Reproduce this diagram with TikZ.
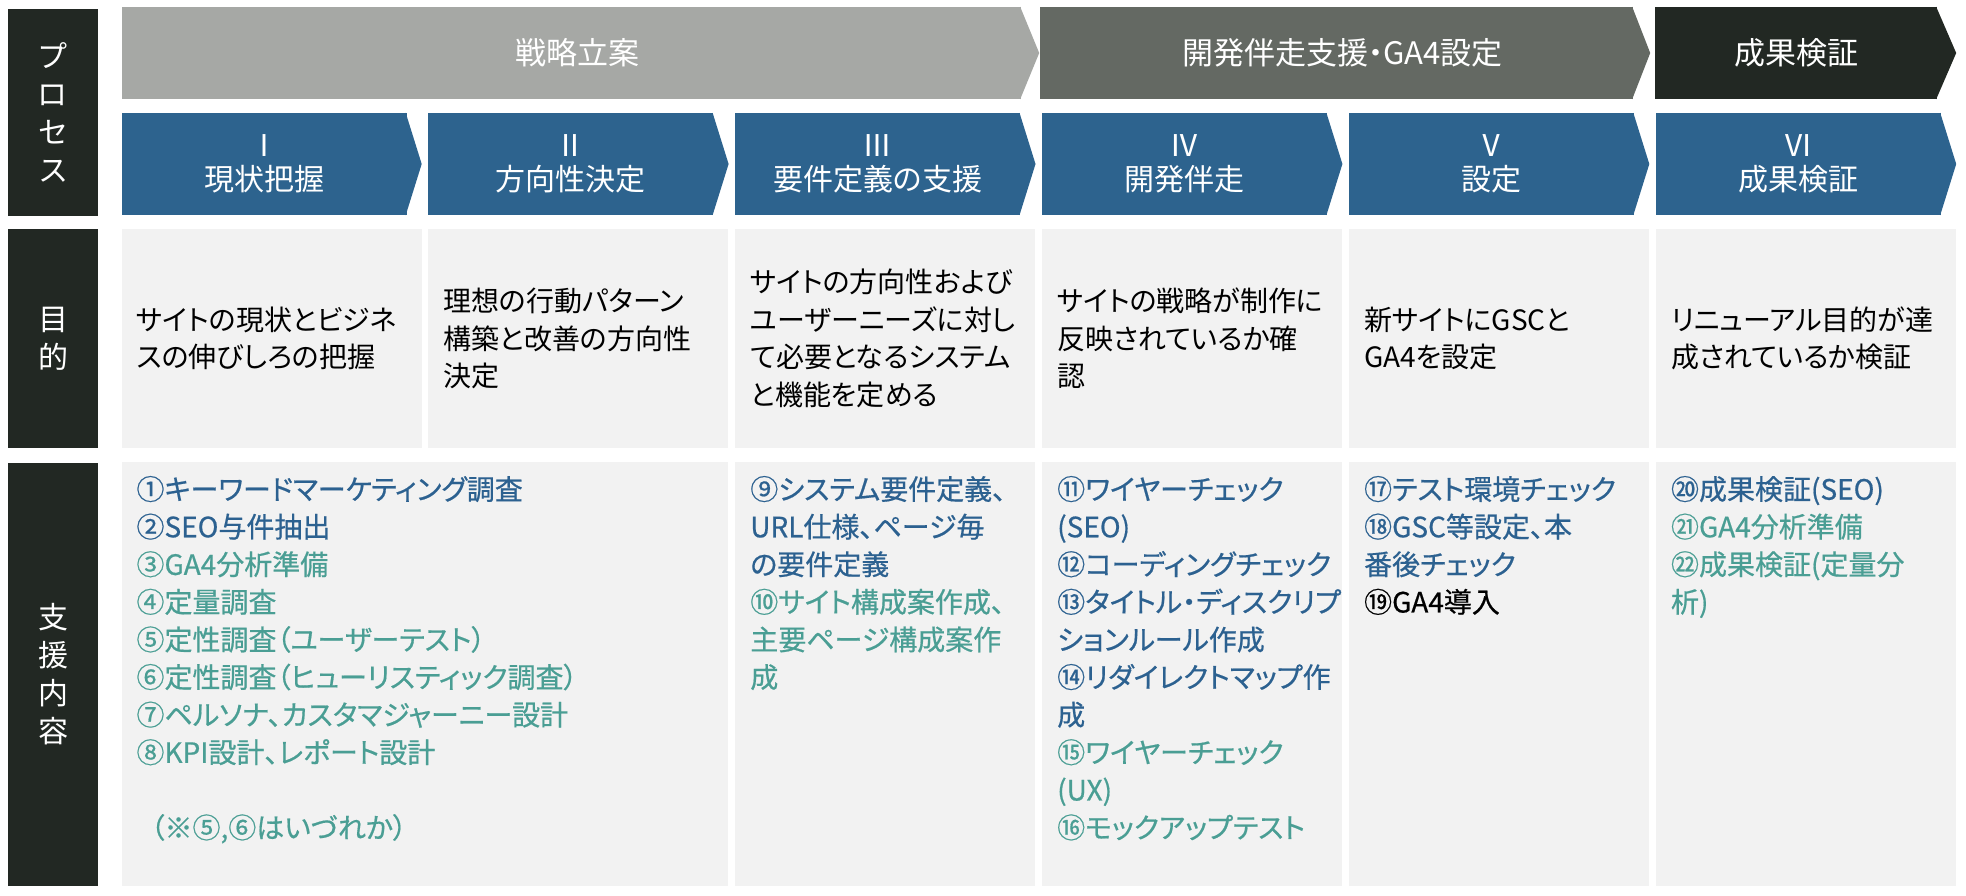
\documentclass[tikz,border=0pt]{standalone}
\usepackage{fontspec}
\setmainfont{Noto Sans CJK JP}[RawFeature=+palt]
\newfontfamily\itemfont{Noto Sans CJK JP}[RawFeature=+palt,FakeBold=0.6]
\usetikzlibrary{positioning}
\definecolor{barblack}{HTML}{222823}
\definecolor{plangray}{HTML}{A6A8A5}
\definecolor{devgray}{HTML}{646963}
\definecolor{stepblue}{HTML}{2D638E}
\definecolor{cellgray}{HTML}{F2F2F2}
\definecolor{itemblue}{HTML}{2C6190}
\definecolor{itemteal}{HTML}{4A9E94}
\tikzset{rowlabel/.style={fill=barblack,text=white,minimum width=90pt,inner sep=0pt,align=center,font=\fontsize{30}{38}\selectfont},stagebox/.style={minimum height=92pt,inner sep=0pt,text=white,font=\fontsize{31}{36}\selectfont},phasebox/.style={fill=stepblue,minimum width=285pt,minimum height=102pt,inner sep=0pt,align=center,text=white,font=\fontsize{30}{34}\selectfont},goalbox/.style={fill=cellgray,minimum width=300pt,minimum height=219pt,text width=270pt,inner xsep=15pt,inner ysep=0pt,align=left,font=\fontsize{28}{37.6}\selectfont},cellbox/.style={fill=cellgray,minimum width=300pt,minimum height=424pt,inner sep=0pt},itemtext/.style={align=left,inner sep=0pt,text=itemteal,font=\itemfont\fontsize{28}{37.6}\selectfont}}

\begin{document}
\begin{tikzpicture}[x=1pt,y=-1pt]
\useasboundingbox (0,0) rectangle (1966,896);
\fill[white] (0,0) rectangle (1966,896);
% row labels
\node[rowlabel,minimum height=207pt] (lproc) at (53,112.5) {プ\\ロ\\セ\\ス};
\node[rowlabel,minimum height=219pt] (lgoal) at (53,338.5) {目\\的};
\node[rowlabel,minimum height=423pt] (lsupp) at (53,674.5) {支\\援\\内\\容};
% stages
\node[stagebox,fill=plangray,minimum width=899.5pt] (s1) at (571.25,53) {\hspace*{12pt}戦略立案};
\node[stagebox,fill=devgray,minimum width=593pt] (s2) at (1336.5,53) {\hspace*{12pt}開発伴走支援・GA4設定};
\node[stagebox,fill=barblack,minimum width=282pt] (s3) at (1796,53) {成果検証};
\fill[plangray] ([xshift=-1pt]s1.north east) -- ([xshift=18pt]s1.east) -- ([xshift=-1pt]s1.south east) -- cycle;
\fill[devgray] ([xshift=-1pt]s2.north east) -- ([xshift=17pt]s2.east) -- ([xshift=-1pt]s2.south east) -- cycle;
\fill[barblack] ([xshift=-1pt]s3.north east) -- ([xshift=19pt]s3.east) -- ([xshift=-1pt]s3.south east) -- cycle;
% phases
\node[phasebox] (p1) at (264,164) {Ⅰ\\現状把握};
\node[phasebox] (p2) at (570.9,164) {Ⅱ\\方向性決定};
\node[phasebox] (p3) at (877.8,164) {Ⅲ\\要件定義の支援};
\node[phasebox] (p4) at (1184.7,164) {Ⅳ\\開発伴走};
\node[phasebox] (p5) at (1491.6,164) {Ⅴ\\設定};
\node[phasebox] (p6) at (1798.5,164) {Ⅵ\\成果検証};
\fill[stepblue] ([xshift=-1pt]p1.north east) -- ([xshift=15pt]p1.east) -- ([xshift=-1pt]p1.south east) -- cycle;
\fill[stepblue] ([xshift=-1pt]p2.north east) -- ([xshift=15pt]p2.east) -- ([xshift=-1pt]p2.south east) -- cycle;
\fill[stepblue] ([xshift=-1pt]p3.north east) -- ([xshift=15pt]p3.east) -- ([xshift=-1pt]p3.south east) -- cycle;
\fill[stepblue] ([xshift=-1pt]p4.north east) -- ([xshift=15pt]p4.east) -- ([xshift=-1pt]p4.south east) -- cycle;
\fill[stepblue] ([xshift=-1pt]p5.north east) -- ([xshift=15pt]p5.east) -- ([xshift=-1pt]p5.south east) -- cycle;
\fill[stepblue] ([xshift=-1pt]p6.north east) -- ([xshift=15pt]p6.east) -- ([xshift=-1pt]p6.south east) -- cycle;
% goals
\node[goalbox] (g1) at (271.5,338.5) {サイトの現状とビジネ\\スの伸びしろの把握};
\node[goalbox] (g2) at (578.4,338.5) {理想の行動パターン\\構築と改善の方向性\\決定};
\node[goalbox] (g3) at (885.3,338.5) {サイトの方向性および\\ユーザーニーズに対し\\て必要となるシステム\\と機能を定める};
\node[goalbox] (g4) at (1192.2,338.5) {サイトの戦略が制作に\\反映されているか確\\認};
\node[goalbox] (g5) at (1499.1,338.5) {新サイトにGSCと\\GA4を設定};
\node[goalbox] (g6) at (1806,338.5) {リニューアル目的が達\\成されているか検証};
% support items
\node[cellbox,minimum width=606.9pt] (c1) at (424.95,674) {};
\node[cellbox] (c3) at (885.3,674) {};
\node[cellbox] (c4) at (1192.2,674) {};
\node[cellbox] (c5) at (1499.1,674) {};
\node[cellbox] (c6) at (1806,674) {};
\node[itemtext,below right=14pt and 15pt of c1.north west] (t1) {\textcolor{itemblue}{①キーワードマーケティング調査}\\\textcolor{itemblue}{②SEO与件抽出}\\③GA4分析準備\\④定量調査\\⑤定性調査（ユーザーテスト）\\⑥定性調査（ヒューリスティック調査）\\⑦ペルソナ、カスタマジャーニー設計\\⑧KPI設計、レポート設計\\[37.6pt]\hspace*{14pt}（※⑤,⑥はいづれか）};
\node[itemtext,below right=14pt and 15pt of c3.north west] (t3) {\textcolor{itemblue}{⑨システム要件定義、}\\\textcolor{itemblue}{URL仕様、ページ毎}\\\textcolor{itemblue}{の要件定義}\\⑩サイト構成案作成、\\主要ページ構成案作\\成};
\node[itemtext,below right=14pt and 15pt of c4.north west] (t4) {\textcolor{itemblue}{⑪ワイヤーチェック}\\\textcolor{itemblue}{(SEO)}\\\textcolor{itemblue}{⑫コーディングチェック}\\\textcolor{itemblue}{⑬タイトル・ディスクリプ}\\\textcolor{itemblue}{ションルール作成}\\\textcolor{itemblue}{⑭リダイレクトマップ作}\\\textcolor{itemblue}{成}\\⑮ワイヤーチェック\\(UX)\\⑯モックアップテスト};
\node[itemtext,below right=14pt and 15pt of c5.north west] (t5) {\textcolor{itemblue}{⑰テスト環境チェック}\\\textcolor{itemblue}{⑱GSC等設定、本}\\\textcolor{itemblue}{番後チェック}\\\textcolor{black}{⑲GA4導入}};
\node[itemtext,below right=14pt and 15pt of c6.north west] (t6) {\textcolor{itemblue}{⑳成果検証(SEO)}\\㉑GA4分析準備\\㉒成果検証(定量分\\析)};
\end{tikzpicture}
\end{document}
